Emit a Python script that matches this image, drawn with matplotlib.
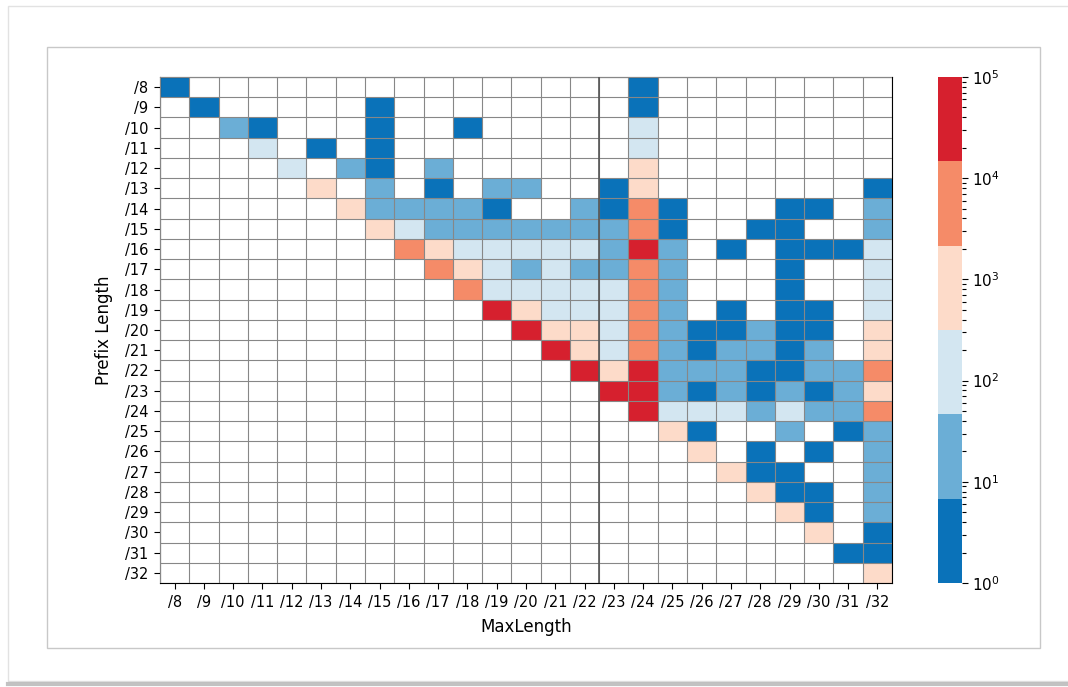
import numpy as np
import matplotlib
matplotlib.use("Agg")
from matplotlib import pyplot as plt
from matplotlib.colors import ListedColormap, LogNorm
from matplotlib.patches import Rectangle
from matplotlib.lines import Line2D

prefix_labels = ['/%d' % i for i in range(8, 33)]
maxlen_labels = ['/%d' % i for i in range(8, 33)]

# counts per (prefix length row, max length column); 0 = no entry
counts = [
    [3, 0, 0, 0, 0, 0, 0, 0, 0, 0, 0, 0, 0, 0, 0, 0, 3, 0, 0, 0, 0, 0, 0, 0, 0],
    [0, 3, 0, 0, 0, 0, 0, 3, 0, 0, 0, 0, 0, 0, 0, 0, 3, 0, 0, 0, 0, 0, 0, 0, 0],
    [0, 0, 20, 3, 0, 0, 0, 3, 0, 0, 3, 0, 0, 0, 0, 0, 150, 0, 0, 0, 0, 0, 0, 0, 0],
    [0, 0, 0, 150, 0, 3, 0, 3, 0, 0, 0, 0, 0, 0, 0, 0, 150, 0, 0, 0, 0, 0, 0, 0, 0],
    [0, 0, 0, 0, 150, 0, 20, 3, 0, 20, 0, 0, 0, 0, 0, 0, 1000, 0, 0, 0, 0, 0, 0, 0, 0],
    [0, 0, 0, 0, 0, 1000, 0, 20, 0, 3, 0, 20, 20, 0, 0, 3, 1000, 0, 0, 0, 0, 0, 0, 0, 3],
    [0, 0, 0, 0, 0, 0, 1000, 20, 20, 20, 20, 3, 0, 0, 20, 3, 6000, 3, 0, 0, 0, 3, 3, 0, 20],
    [0, 0, 0, 0, 0, 0, 0, 1000, 150, 20, 20, 20, 20, 20, 20, 20, 6000, 3, 0, 0, 3, 3, 0, 0, 20],
    [0, 0, 0, 0, 0, 0, 0, 0, 6000, 1000, 150, 150, 150, 150, 150, 20, 40000, 20, 0, 3, 0, 3, 3, 3, 150],
    [0, 0, 0, 0, 0, 0, 0, 0, 0, 6000, 1000, 150, 20, 150, 20, 20, 6000, 20, 0, 0, 0, 3, 0, 0, 150],
    [0, 0, 0, 0, 0, 0, 0, 0, 0, 0, 6000, 150, 150, 150, 150, 150, 6000, 20, 0, 0, 0, 3, 0, 0, 150],
    [0, 0, 0, 0, 0, 0, 0, 0, 0, 0, 0, 40000, 1000, 150, 150, 150, 6000, 20, 0, 3, 0, 3, 3, 0, 150],
    [0, 0, 0, 0, 0, 0, 0, 0, 0, 0, 0, 0, 40000, 1000, 1000, 150, 6000, 20, 3, 3, 20, 3, 3, 0, 1000],
    [0, 0, 0, 0, 0, 0, 0, 0, 0, 0, 0, 0, 0, 40000, 1000, 150, 6000, 20, 3, 20, 20, 3, 20, 0, 1000],
    [0, 0, 0, 0, 0, 0, 0, 0, 0, 0, 0, 0, 0, 0, 40000, 1000, 40000, 20, 20, 20, 3, 3, 20, 20, 6000],
    [0, 0, 0, 0, 0, 0, 0, 0, 0, 0, 0, 0, 0, 0, 0, 40000, 40000, 20, 3, 20, 3, 20, 3, 20, 1000],
    [0, 0, 0, 0, 0, 0, 0, 0, 0, 0, 0, 0, 0, 0, 0, 0, 40000, 150, 150, 150, 20, 150, 20, 20, 6000],
    [0, 0, 0, 0, 0, 0, 0, 0, 0, 0, 0, 0, 0, 0, 0, 0, 0, 1000, 3, 0, 0, 20, 0, 3, 20],
    [0, 0, 0, 0, 0, 0, 0, 0, 0, 0, 0, 0, 0, 0, 0, 0, 0, 0, 1000, 0, 3, 0, 3, 0, 20],
    [0, 0, 0, 0, 0, 0, 0, 0, 0, 0, 0, 0, 0, 0, 0, 0, 0, 0, 0, 1000, 3, 3, 0, 0, 20],
    [0, 0, 0, 0, 0, 0, 0, 0, 0, 0, 0, 0, 0, 0, 0, 0, 0, 0, 0, 0, 1000, 3, 3, 0, 20],
    [0, 0, 0, 0, 0, 0, 0, 0, 0, 0, 0, 0, 0, 0, 0, 0, 0, 0, 0, 0, 0, 1000, 3, 0, 20],
    [0, 0, 0, 0, 0, 0, 0, 0, 0, 0, 0, 0, 0, 0, 0, 0, 0, 0, 0, 0, 0, 0, 1000, 0, 3],
    [0, 0, 0, 0, 0, 0, 0, 0, 0, 0, 0, 0, 0, 0, 0, 0, 0, 0, 0, 0, 0, 0, 0, 3, 3],
    [0, 0, 0, 0, 0, 0, 0, 0, 0, 0, 0, 0, 0, 0, 0, 0, 0, 0, 0, 0, 0, 0, 0, 0, 1000],
]

colors = ['#0a72b9', '#6baed6', '#d3e6f1', '#fddbc9', '#f58b68', '#d6202e']

data = np.ma.masked_equal(np.array(counts, dtype=float), 0)
n = len(prefix_labels)

fig = plt.figure(figsize=(10.68, 6.87), dpi=100)

# screenshot frame
fig.add_artist(Rectangle((8 / 1068, 1 - 681 / 687), 1.1, 675 / 687, transform=fig.transFigure,
                         fill=False, edgecolor='#e2e2e2', lw=1))
fig.add_artist(Line2D([8 / 1068, 1], [1 - 684 / 687] * 2, transform=fig.transFigure,
                      color='#a8a8a8', lw=3, alpha=0.7))
fig.add_artist(Rectangle((47 / 1068, 1 - 648 / 687), 993 / 1068, 601 / 687, transform=fig.transFigure,
                         fill=False, edgecolor='#c8c8c8', lw=1))

ax = fig.add_axes([160 / 1068, 1 - 583 / 687, 732 / 1068, 506 / 687])
cax = fig.add_axes([938 / 1068, 1 - 583 / 687, 24 / 1068, 506 / 687])

cmap = ListedColormap(colors)
mesh = ax.pcolormesh(np.arange(n + 1), np.arange(n + 1), data, cmap=cmap,
                     norm=LogNorm(vmin=1, vmax=1e5))
ax.set_xlim(0, n)
ax.set_ylim(n, 0)

# cell grid
for k in range(n + 1):
    ax.axhline(k, color='#878787', lw=0.8, zorder=3)
    ax.axvline(k, color='#878787', lw=0.8, zorder=3)
ax.axvline(15, color='#555555', lw=1.2, zorder=4)

ax.set_xticks(np.arange(n) + 0.5)
ax.set_xticklabels(maxlen_labels, fontsize=10.5)
ax.set_yticks(np.arange(n) + 0.5)
ax.set_yticklabels(prefix_labels, fontsize=10.5)
ax.tick_params(length=4.5, pad=4)
ax.set_xlabel('MaxLength', fontsize=12, labelpad=6)
ax.set_ylabel('Prefix Length', fontsize=12, labelpad=8)

cbar = fig.colorbar(mesh, cax=cax)
cbar.outline.set_visible(False)
cbar.minorticks_on()
cbar.ax.tick_params(labelsize=11, length=4)
cbar.ax.tick_params(which='minor', length=3, width=0.8)

plt.savefig('out.png', dpi=100)
